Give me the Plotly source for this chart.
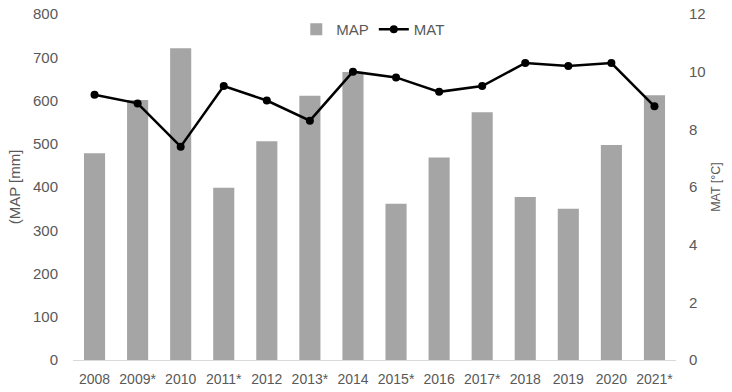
import plotly.graph_objects as go

years = ["2008", "2009*", "2010", "2011*", "2012", "2013*", "2014",
         "2015*", "2016", "2017*", "2018", "2019", "2020", "2021*"]
map_mm = [478, 601, 721, 398, 506, 611, 666, 361, 468, 573, 377, 350, 497, 612]
mat_c = [9.2, 8.9, 7.4, 9.5, 9.0, 8.3, 10.0, 9.8, 9.3, 9.5, 10.3, 10.2, 10.3, 8.8]

font_fam = "Liberation Sans, Arial, sans-serif"
grey = "#595959"

fig = go.Figure()
fig.add_trace(go.Bar(x=years, y=map_mm, name="MAP", marker_color="#A5A5A5",
                     marker_line_width=0, yaxis="y"))
fig.add_trace(go.Scatter(x=years, y=mat_c, name="MAT", mode="lines+markers",
                         line=dict(color="black", width=2.5),
                         marker=dict(color="black", size=8), yaxis="y2"))

fig.update_layout(
    width=732, height=392,
    margin=dict(l=73, r=56, t=14, b=32, autoexpand=False),
    paper_bgcolor="white", plot_bgcolor="white",
    font=dict(family=font_fam, size=14, color=grey),
    bargap=0.51,
    showlegend=True,
    legend=dict(orientation="h", x=0.498, xanchor="center", y=0.955, yanchor="middle",
                bgcolor="rgba(0,0,0,0)", font=dict(size=15, color=grey),
                itemwidth=30, traceorder="normal"),
    xaxis=dict(showgrid=False, showline=True, linecolor="#D9D9D9", linewidth=1,
               ticks="", tickfont=dict(size=14, color=grey), automargin=False,
               ticklabelstandoff=6, range=[-0.5, 13.5]),
    yaxis=dict(range=[0, 800], dtick=100, showgrid=False, zeroline=False,
               automargin=False, ticklabelstandoff=14,
               title=dict(text="(MAP [mm]", font=dict(size=15, color=grey), standoff=8),
               tickfont=dict(size=15, color=grey)),
    yaxis2=dict(range=[0, 12], dtick=2, overlaying="y", side="right", showgrid=False,
                zeroline=False, automargin=False, ticklabelstandoff=12,
                title=dict(text="MAT [°C]", font=dict(size=12.5, color=grey), standoff=6),
                tickfont=dict(size=15, color=grey)),
)

fig.write_html("out.html", config={"displayModeBar": False},
               post_script="document.body.style.margin='0';")
